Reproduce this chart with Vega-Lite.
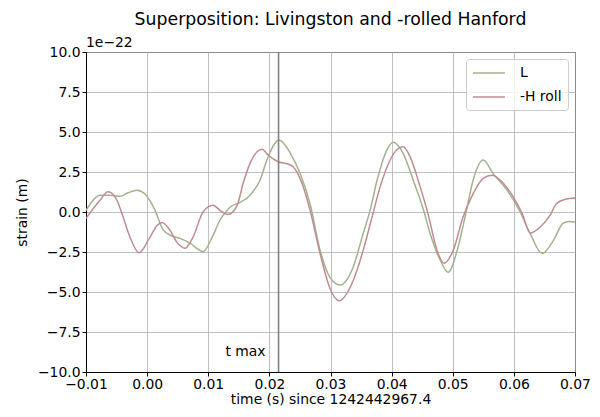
{
  "$schema": "https://vega.github.io/schema/vega-lite/v6.json",
  "autosize": {"type": "none"},
  "width": 489,
  "height": 320,
  "padding": {"left": 86, "top": 52, "right": 25, "bottom": 45},
  "background": "white",
  "title": {
    "text": "Superposition: Livingston and -rolled Hanford",
    "font": "DejaVu Sans",
    "fontSize": 17.3,
    "fontWeight": "normal",
    "color": "black",
    "anchor": "middle",
    "offset": 8
  },
  "config": {
    "font": "DejaVu Sans",
    "view": {"stroke": "black", "strokeWidth": 1},
    "axis": {
      "labelFont": "DejaVu Sans",
      "labelFontSize": 13.9,
      "labelColor": "black",
      "labelOverlap": false,
      "titleFont": "DejaVu Sans",
      "titleFontSize": 13.9,
      "titleFontWeight": "normal",
      "titleColor": "black",
      "domainColor": "black",
      "domainWidth": 1,
      "tickColor": "black",
      "tickSize": 4,
      "tickWidth": 1,
      "gridColor": "#b0b0b0",
      "gridWidth": 0.8,
      "gridOpacity": 1
    }
  },
  "datasets": {
    "strain": [
      {"t": -0.0100, "strain": 0.1, "series": "L"},
      {"t": -0.00885, "strain": 0.73, "series": "L"},
      {"t": -0.00771, "strain": 1.05, "series": "L"},
      {"t": -0.00607, "strain": 1.05, "series": "L"},
      {"t": -0.00444, "strain": 0.98, "series": "L"},
      {"t": -0.00313, "strain": 1.2, "series": "L"},
      {"t": -0.00165, "strain": 1.36, "series": "L"},
      {"t": -0.00035, "strain": 1.12, "series": "L"},
      {"t": 0.00047, "strain": 0.7, "series": "L"},
      {"t": 0.00129, "strain": 0.1, "series": "L"},
      {"t": 0.00260, "strain": -1.1, "series": "L"},
      {"t": 0.00408, "strain": -1.5, "series": "L"},
      {"t": 0.00539, "strain": -1.65, "series": "L"},
      {"t": 0.00702, "strain": -1.95, "series": "L"},
      {"t": 0.00915, "strain": -2.47, "series": "L"},
      {"t": 0.01062, "strain": -1.6, "series": "L"},
      {"t": 0.01193, "strain": -0.5, "series": "L"},
      {"t": 0.01357, "strain": 0.3, "series": "L"},
      {"t": 0.01520, "strain": 0.6, "series": "L"},
      {"t": 0.01684, "strain": 1.05, "series": "L"},
      {"t": 0.01848, "strain": 2.0, "series": "L"},
      {"t": 0.01979, "strain": 3.45, "series": "L"},
      {"t": 0.02159, "strain": 4.5, "series": "L"},
      {"t": 0.02339, "strain": 3.7, "series": "L"},
      {"t": 0.02503, "strain": 2.4, "series": "L"},
      {"t": 0.02666, "strain": 0.5, "series": "L"},
      {"t": 0.02830, "strain": -2.4, "series": "L"},
      {"t": 0.02994, "strain": -4.1, "series": "L"},
      {"t": 0.03157, "strain": -4.56, "series": "L"},
      {"t": 0.03370, "strain": -3.45, "series": "L"},
      {"t": 0.03534, "strain": -1.35, "series": "L"},
      {"t": 0.03648, "strain": 0.1, "series": "L"},
      {"t": 0.03763, "strain": 2.0, "series": "L"},
      {"t": 0.03926, "strain": 3.9, "series": "L"},
      {"t": 0.04025, "strain": 4.36, "series": "L"},
      {"t": 0.04188, "strain": 3.67, "series": "L"},
      {"t": 0.04352, "strain": 2.0, "series": "L"},
      {"t": 0.04516, "strain": 0.2, "series": "L"},
      {"t": 0.04630, "strain": -1.35, "series": "L"},
      {"t": 0.04794, "strain": -3.0, "series": "L"},
      {"t": 0.04925, "strain": -3.77, "series": "L"},
      {"t": 0.05072, "strain": -2.4, "series": "L"},
      {"t": 0.05219, "strain": 0.0, "series": "L"},
      {"t": 0.05334, "strain": 2.0, "series": "L"},
      {"t": 0.05498, "strain": 3.25, "series": "L"},
      {"t": 0.05661, "strain": 2.4, "series": "L"},
      {"t": 0.05890, "strain": 1.36, "series": "L"},
      {"t": 0.06103, "strain": 0.0, "series": "L"},
      {"t": 0.06267, "strain": -1.35, "series": "L"},
      {"t": 0.06463, "strain": -2.6, "series": "L"},
      {"t": 0.06643, "strain": -1.8, "series": "L"},
      {"t": 0.06807, "strain": -0.7, "series": "L"},
      {"t": 0.06900, "strain": -0.6, "series": "L"},
      {"t": 0.07000, "strain": -0.63, "series": "L"},
      {"t": -0.0100, "strain": -0.4, "series": "-H roll"},
      {"t": -0.00771, "strain": 0.73, "series": "-H roll"},
      {"t": -0.00640, "strain": 1.26, "series": "-H roll"},
      {"t": -0.00493, "strain": 0.73, "series": "-H roll"},
      {"t": -0.00394, "strain": -0.3, "series": "-H roll"},
      {"t": -0.00280, "strain": -1.57, "series": "-H roll"},
      {"t": -0.00133, "strain": -2.55, "series": "-H roll"},
      {"t": 0.00047, "strain": -1.57, "series": "-H roll"},
      {"t": 0.00162, "strain": -0.84, "series": "-H roll"},
      {"t": 0.00244, "strain": -0.65, "series": "-H roll"},
      {"t": 0.00375, "strain": -1.15, "series": "-H roll"},
      {"t": 0.00489, "strain": -1.9, "series": "-H roll"},
      {"t": 0.00620, "strain": -2.26, "series": "-H roll"},
      {"t": 0.00751, "strain": -1.57, "series": "-H roll"},
      {"t": 0.00915, "strain": 0.0, "series": "-H roll"},
      {"t": 0.01079, "strain": 0.42, "series": "-H roll"},
      {"t": 0.01193, "strain": 0.1, "series": "-H roll"},
      {"t": 0.01324, "strain": -0.15, "series": "-H roll"},
      {"t": 0.01471, "strain": 0.4, "series": "-H roll"},
      {"t": 0.01570, "strain": 1.78, "series": "-H roll"},
      {"t": 0.01684, "strain": 3.04, "series": "-H roll"},
      {"t": 0.01799, "strain": 3.77, "series": "-H roll"},
      {"t": 0.01881, "strain": 3.92, "series": "-H roll"},
      {"t": 0.01979, "strain": 3.56, "series": "-H roll"},
      {"t": 0.02142, "strain": 3.14, "series": "-H roll"},
      {"t": 0.02306, "strain": 3.0, "series": "-H roll"},
      {"t": 0.02388, "strain": 2.83, "series": "-H roll"},
      {"t": 0.02535, "strain": 1.78, "series": "-H roll"},
      {"t": 0.02666, "strain": 0.1, "series": "-H roll"},
      {"t": 0.02830, "strain": -2.6, "series": "-H roll"},
      {"t": 0.02994, "strain": -4.8, "series": "-H roll"},
      {"t": 0.03141, "strain": -5.55, "series": "-H roll"},
      {"t": 0.03370, "strain": -4.3, "series": "-H roll"},
      {"t": 0.03534, "strain": -2.4, "series": "-H roll"},
      {"t": 0.03681, "strain": -0.3, "series": "-H roll"},
      {"t": 0.03812, "strain": 1.57, "series": "-H roll"},
      {"t": 0.03976, "strain": 3.25, "series": "-H roll"},
      {"t": 0.04090, "strain": 3.92, "series": "-H roll"},
      {"t": 0.04188, "strain": 4.08, "series": "-H roll"},
      {"t": 0.04303, "strain": 3.45, "series": "-H roll"},
      {"t": 0.04467, "strain": 1.57, "series": "-H roll"},
      {"t": 0.04581, "strain": 0.1, "series": "-H roll"},
      {"t": 0.04761, "strain": -2.6, "series": "-H roll"},
      {"t": 0.04859, "strain": -3.2, "series": "-H roll"},
      {"t": 0.05007, "strain": -2.4, "series": "-H roll"},
      {"t": 0.05170, "strain": -0.3, "series": "-H roll"},
      {"t": 0.05334, "strain": 1.15, "series": "-H roll"},
      {"t": 0.05498, "strain": 2.1, "series": "-H roll"},
      {"t": 0.05645, "strain": 2.3, "series": "-H roll"},
      {"t": 0.05809, "strain": 1.88, "series": "-H roll"},
      {"t": 0.05989, "strain": 0.94, "series": "-H roll"},
      {"t": 0.06136, "strain": -0.1, "series": "-H roll"},
      {"t": 0.06267, "strain": -1.32, "series": "-H roll"},
      {"t": 0.06431, "strain": -0.94, "series": "-H roll"},
      {"t": 0.06594, "strain": -0.2, "series": "-H roll"},
      {"t": 0.06692, "strain": 0.5, "series": "-H roll"},
      {"t": 0.06840, "strain": 0.8, "series": "-H roll"},
      {"t": 0.07000, "strain": 0.88, "series": "-H roll"}
    ],
    "notes": [
      {"t": 0.0215, "strain": -9, "label": "t max", "kind": "tmax"},
      {"t": -0.01, "strain": 10, "label": "1e−22", "kind": "offset"}
    ]
  },
  "layer": [
    {
      "data": {"name": "strain"},
      "mark": {"type": "line", "interpolate": "monotone", "strokeWidth": 1.5, "clip": true},
      "encoding": {
        "x": {
          "field": "t",
          "type": "quantitative",
          "scale": {"domain": [-0.01, 0.07], "nice": false, "zero": false},
          "axis": {
            "title": "time (s) since 1242442967.4",
            "values": [-0.01, 0, 0.01, 0.02, 0.03, 0.04, 0.05, 0.06, 0.07],
            "tickCount": 12,
            "format": ".2f",
            "labelPadding": 1,
            "titlePadding": 2,
            "labelFlush": false
          }
        },
        "y": {
          "field": "strain",
          "type": "quantitative",
          "scale": {"domain": [-10, 10], "nice": false, "zero": false},
          "axis": {
            "title": "strain (m)",
            "values": [-10, -7.5, -5, -2.5, 0, 2.5, 5, 7.5, 10],
            "tickCount": 12,
            "format": ".1f",
            "labelPadding": 2,
            "titlePadding": 8,
            "labelFlush": false
          }
        },
        "color": {
          "field": "series",
          "type": "nominal",
          "scale": {"domain": ["L", "-H roll"], "range": ["#a2b290", "#c08c92"]},
          "legend": {
            "title": null,
            "orient": "top-right",
            "offset": 7,
            "symbolType": "M-1,0H3.571",
            "symbolSize": 196,
            "symbolStrokeWidth": 1.5,
            "symbolFillColor": "transparent",
            "labelFont": "DejaVu Sans",
            "labelFontSize": 13.9,
            "labelColor": "black",
            "labelOffset": 32,
            "rowPadding": 9,
            "padding": 6,
            "fillColor": "rgba(255,255,255,0.8)",
            "strokeColor": "#cccccc",
            "cornerRadius": 3
          }
        }
      }
    },
    {
      "data": {"name": "notes"},
      "transform": [{"filter": "datum.kind === 'tmax'"}],
      "mark": {"type": "rule", "color": "#808080", "strokeWidth": 1.6},
      "encoding": {
        "x": {"field": "t", "type": "quantitative"}
      }
    },
    {
      "data": {"name": "notes"},
      "transform": [{"filter": "datum.kind === 'tmax'"}],
      "mark": {"type": "text", "align": "right", "baseline": "alphabetic", "dx": -13, "fontSize": 13.9, "font": "DejaVu Sans", "color": "black"},
      "encoding": {
        "x": {"field": "t", "type": "quantitative"},
        "y": {"field": "strain", "type": "quantitative"},
        "text": {"field": "label"}
      }
    },
    {
      "data": {"name": "notes"},
      "transform": [{"filter": "datum.kind === 'offset'"}],
      "mark": {"type": "text", "align": "left", "baseline": "bottom", "dy": -2, "fontSize": 13.9, "font": "DejaVu Sans", "color": "black", "clip": false},
      "encoding": {
        "x": {"field": "t", "type": "quantitative"},
        "y": {"field": "strain", "type": "quantitative"},
        "text": {"field": "label"}
      }
    }
  ]
}
